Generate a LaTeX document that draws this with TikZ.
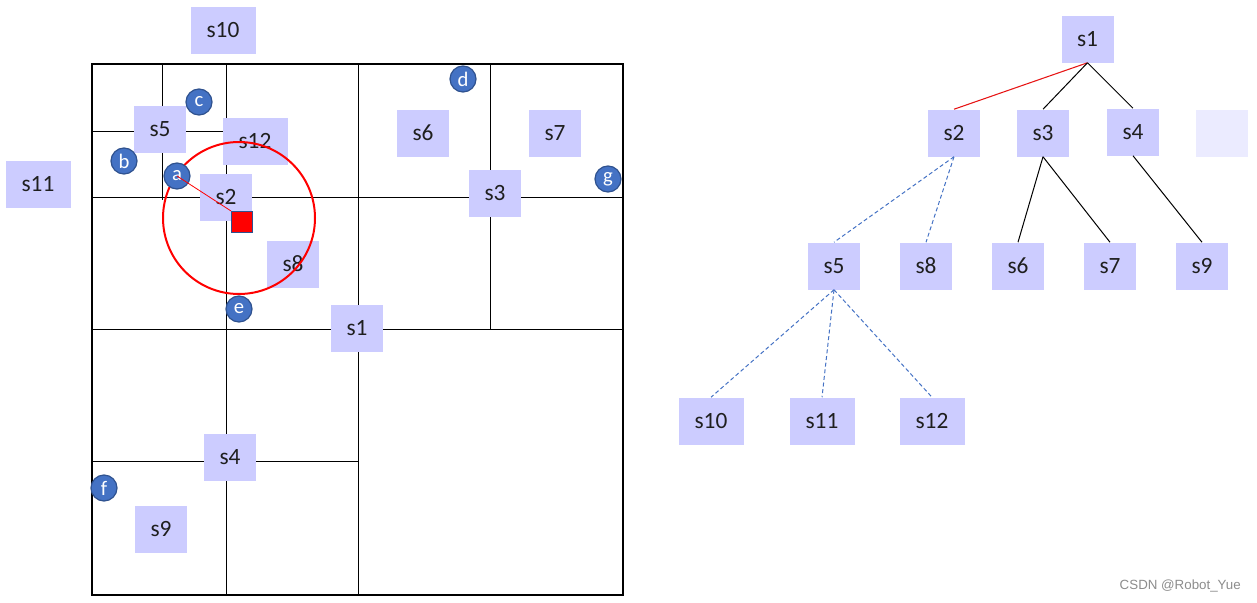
\documentclass[tikz,border=0pt]{standalone}
\usepackage{fontspec}
\setmainfont{Carlito}
\newfontfamily\wmfont{Liberation Sans}
\definecolor{boxfill}{RGB}{204,204,255}
\definecolor{boxpale}{RGB}{235,235,255}
\definecolor{dotfill}{RGB}{68,114,196}
\definecolor{dotedge}{RGB}{47,82,143}
\definecolor{treered}{RGB}{230,20,20}
\tikzset{
  sbox/.style={fill=boxfill, minimum width=39pt, minimum height=35.25pt, inner sep=0pt, font=\fontsize{17.5}{20}\selectfont, text=black!88},
  wbox/.style={sbox, minimum width=48.75pt},
  dot/.style={circle, fill=dotfill, draw=dotedge, line width=0.9pt, minimum size=19.5pt, inner sep=0pt, text=white, font=\fontsize{15.5}{17}\selectfont},
  gridline/.style={black, line width=0.7pt},
  tedge/.style={black, line width=0.75pt},
  dedge/.style={dotfill, line width=0.75pt, dash pattern=on 3pt off 2pt},
}
\begin{document}
\begin{tikzpicture}[x=0.75pt,y=-0.75pt]
\useasboundingbox (0,0) rectangle (1257,603);
% grid
\draw[gridline] (358,64) -- (358,595);
\draw[gridline] (92,329) -- (623,329);
\draw[gridline] (490,64) -- (490,329);
\draw[gridline] (358,197) -- (623,197);
\draw[gridline] (226,64) -- (226,595);
\draw[gridline] (92,197) -- (358,197);
\draw[gridline] (162,64) -- (162,200);
\draw[gridline] (92,131) -- (226,131);
\draw[gridline] (92,461) -- (358,461);
\draw[black, line width=1.6pt] (92,64) rectangle (623,595);
% left nodes
\node[wbox] (L10) at (223,30) {s10};
\node[wbox] (L11) at (38,184) {s11};
\node[sbox] (L5) at (160,129) {s5};
\node[wbox] (L12) at (255,141) {s12};
\node[sbox] (L2) at (226,197) {s2};
\node[sbox] (L8) at (293,264) {s8};
\node[sbox] (L1) at (357,328) {s1};
\node[sbox] (L6) at (423,133) {s6};
\node[sbox] (L7) at (555,133) {s7};
\node[sbox] (L3) at (495,193) {s3};
\node[sbox] (L4) at (230,457) {s4};
\node[sbox] (L9) at (161,529) {s9};
% query circle
\coordinate (qc) at (239,218);
\draw[red, line width=1.5pt] (qc) circle[radius=76];
\node[fill=red, draw=dotedge, line width=0.9pt, minimum size=15.75pt, inner sep=0pt] (q) at (242,222) {};
% dots
\node[dot] (a) at (177,176) {a};
\node[dot] (b) at (124,161) {b};
\node[dot] (c) at (199,102) {c};
\node[dot] (d) at (463,79) {d};
\node[dot] (e) at (239,309) {e};
\node[dot] (f) at (104,488) {f};
\node[dot] (g) at (608,179) {g};
\draw[red, line width=0.6pt] (a.center) -- (q.north west);
% tree
\node[sbox] (T1) at (1087.5,39) {s1};
\node[sbox] (T2) at (954,133) {s2};
\node[sbox] (T3) at (1043,133) {s3};
\node[sbox] (T4) at (1133,132) {s4};
\node[sbox, fill=boxpale] (Tx) at (1222,133) {};
\node[sbox] (T5) at (834,266) {s5};
\node[sbox] (T8) at (926,266) {s8};
\node[sbox] (T6) at (1018,266) {s6};
\node[sbox] (T7) at (1110,266) {s7};
\node[sbox] (T9) at (1202,266) {s9};
\node[wbox] (T10) at (711,421) {s10};
\node[wbox] (T11) at (822,421) {s11};
\node[wbox] (T12) at (932,421) {s12};
\draw[treered, line width=0.8pt] (T1.south) -- (T2.north);
\draw[tedge] (T1.south) -- (T3.north);
\draw[tedge] (T1.south) -- (T4.north);
\draw[tedge] (T3.south) -- (T6.north);
\draw[tedge] (T3.south) -- (T7.north);
\draw[tedge] (T4.south) -- (T9.north);
\draw[dedge] (T2.south) -- (T5.north);
\draw[dedge] (T2.south) -- (T8.north);
\draw[dedge] (T5.south) -- (T10.north);
\draw[dedge] (T5.south) -- (T11.north);
\draw[dedge] (T5.south) -- (T12.north);
% watermark
\node[anchor=east, text=black!45, font=\wmfont\fontsize{10}{12}\selectfont, inner sep=0pt] (wm) at (1241,586) {CSDN @Robot\_Yue};
\end{tikzpicture}
\end{document}
